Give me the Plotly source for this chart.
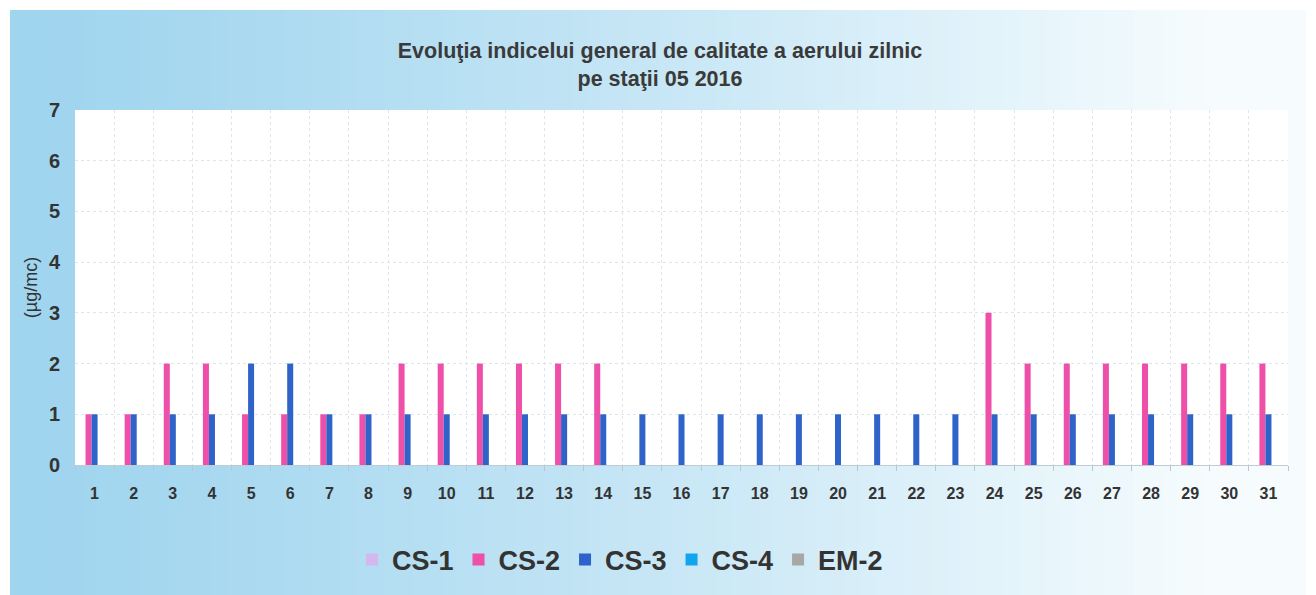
import plotly.graph_objects as go

days = [str(d) for d in range(1, 32)]
cs1 = [None] * 31
cs2 = [1, 1, 2, 2, 1, 1, 1, 1, 2, 2, 2, 2, 2, 2,
       None, None, None, None, None, None, None, None, None,
       3, 2, 2, 2, 2, 2, 2, 2]
cs3 = [1, 1, 1, 1, 2, 2, 1, 1, 1, 1, 1, 1, 1, 1,
       1, 1, 1, 1, 1, 1, 1, 1, 1,
       1, 1, 1, 1, 1, 1, 1, 1]
cs4 = [None] * 31
em2 = [None] * 31

series = [("CS-1", cs1, "#d2b8ee"), ("CS-2", cs2, "#ee4fa9"),
          ("CS-3", cs3, "#2f63c9"), ("CS-4", cs4, "#11a5ee"),
          ("EM-2", em2, "#a7a7a7")]

# page has an 8px body margin; work in figure coords = image coords - 8
OFF = 8
W, H = 1300, 587
L, R, T, B = 75 - OFF, 20, 110 - OFF, 130
pw, ph = W - L - R, H - T - B

def px2paper_x(x):
    return (x - OFF - L) / pw

def px2paper_y(y):
    return (H - B - (y - OFF)) / ph

fig = go.Figure()
for name, vals, col in series:
    fig.add_trace(go.Bar(x=days, y=vals, name=name, marker_color=col,
                         marker_line_width=0))

# gradient background stripes
shapes = []
x0p, x1p, y0p, y1p = 10, 1306, 10, 600
n = 90
c0 = (160, 213, 239)
c1 = (246, 252, 254)
for i in range(n):
    t = i / (n - 1)
    tt = min(1.0, t ** 1.25 * 1.1)
    col = tuple(int(c0[k] + (c1[k] - c0[k]) * tt) for k in range(3))
    xa = x0p + (x1p - x0p) * i / n
    xb = x0p + (x1p - x0p) * (i + 1) / n + 1
    shapes.append(dict(type="rect", xref="paper", yref="paper",
                       x0=px2paper_x(xa), x1=px2paper_x(min(xb, x1p)),
                       y0=px2paper_y(y1p), y1=px2paper_y(y0p),
                       fillcolor="rgb(%d,%d,%d)" % col, line_width=0,
                       layer="below"))
shapes.append(dict(type="rect", xref="paper", yref="paper", x0=0, x1=1, y0=0, y1=1,
                   fillcolor="white", line_width=0, layer="below"))

fnt = "Liberation Sans, Arial"
fig.update_layout(
    width=W, height=H,
    margin=dict(l=L, r=R, t=T, b=B, autoexpand=False),
    paper_bgcolor="white", plot_bgcolor="rgba(0,0,0,0)",
    barmode="group", bargap=0.23, bargroupgap=0,
    shapes=shapes,
    title=dict(text="<b>Evoluţia indicelui general de calitate a aerului zilnic<br>pe staţii 05 2016</b>",
               x=(660 - OFF) / W, xref="container", xanchor="center",
               y=1 - (58 - OFF) / H, yanchor="middle",
               font=dict(family=fnt, size=21.5, color="#3a3a3a")),
    font=dict(family=fnt, color="#3a3a3a"),
    legend=dict(orientation="h", x=px2paper_x(620), xanchor="center",
                y=px2paper_y(560), yanchor="middle",
                font=dict(size=27, color="#333333", family=fnt, weight="bold"),
                bgcolor="rgba(0,0,0,0)", itemwidth=30, tracegroupgap=0,
                traceorder="normal"),
    xaxis=dict(type="category", tickson="boundaries", showgrid=True,
               gridcolor="#dbe7ec", griddash="dot", gridwidth=1,
               ticks="outside", ticklen=5, tickcolor="#b8c8d0",
               showline=True, linecolor="#c0ccd4", linewidth=1, automargin=False,
               tickfont=dict(size=16, color="#333333", family=fnt, weight="bold"),
               ticklabelstandoff=14),
    yaxis=dict(range=[0, 7], dtick=1, showgrid=True, gridcolor="#dbe7ec",
               griddash="dot", zeroline=False, automargin=False,
               tickfont=dict(size=20, color="#333333", family=fnt, weight="bold"),
               ticklabelstandoff=14,
               title=dict(text="(µg/mc)", font=dict(size=18, color="#333333"), standoff=6)),
)

fig.write_html("out.html")
